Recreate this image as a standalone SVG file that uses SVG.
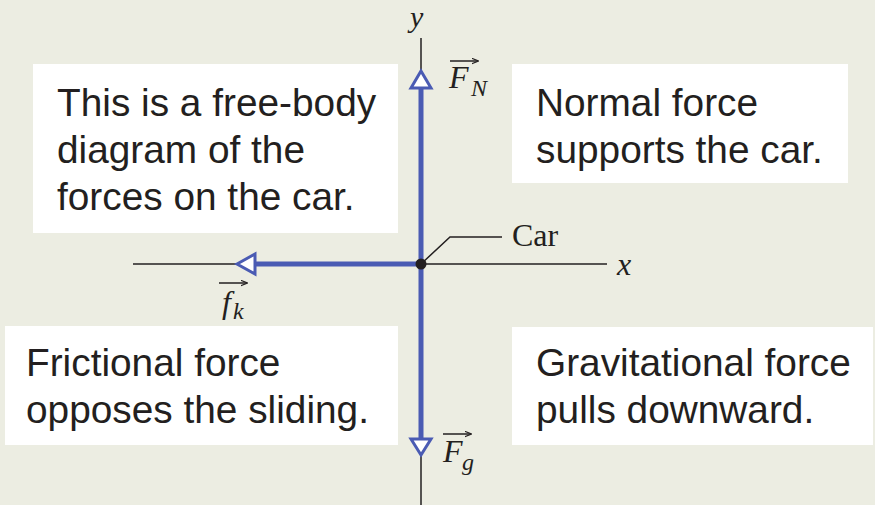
<svg xmlns="http://www.w3.org/2000/svg" width="875" height="505" viewBox="0 0 875 505">
<defs>
<marker id="vec" viewBox="0 0 10 10" refX="9" refY="5" markerWidth="7" markerHeight="7" markerUnits="userSpaceOnUse" orient="auto">
<path d="M0,1 L10,5 L0,9" fill="none" stroke="#231f20" stroke-width="1.5"/>
</marker>
</defs>
<style>
.box{fill:#ffffff}
.t{font-family:"Liberation Sans",Arial,sans-serif;font-size:38.8px;fill:#231f20}
.m{font-family:"Liberation Serif","Times New Roman",serif;fill:#231f20}
.i{font-style:italic}
.ax{stroke:#231f20;stroke-width:1.5;fill:none}
.f{stroke:#4a5bb3;stroke-width:5;fill:none}
.head{fill:#ffffff;stroke:#4a5bb3;stroke-width:3}
.va{stroke:#231f20;stroke-width:1.5;fill:none}
</style>
<rect width="875" height="505" fill="#ecede2"/>
<g id="box-fbd">
<rect class="box" x="33" y="64" width="365" height="169"/>
<text class="t" x="57" y="116">This is a free-body</text>
<text class="t" x="57" y="163">diagram of the</text>
<text class="t" x="57" y="210">forces on the car.</text>
</g>
<g id="box-normal">
<rect class="box" x="512" y="64" width="336" height="119"/>
<text class="t" x="536" y="116">Normal force</text>
<text class="t" x="536" y="163">supports the car.</text>
</g>
<g id="box-friction">
<rect class="box" x="5" y="326" width="393" height="119"/>
<text class="t" x="26" y="376">Frictional force</text>
<text class="t" x="26" y="423">opposes the sliding.</text>
</g>
<g id="box-gravity">
<rect class="box" x="512" y="327" width="361" height="118"/>
<text class="t" x="536" y="376">Gravitational force</text>
<text class="t" x="536" y="423">pulls downward.</text>
</g>
<g id="connectors">
<line class="ax" x1="421" y1="38" x2="421" y2="70"/>
<line class="ax" x1="421" y1="455" x2="421" y2="505"/>
<line class="ax" x1="133" y1="264" x2="237" y2="264"/>
<line class="ax" x1="421" y1="264" x2="607" y2="264"/>
<line class="f" x1="421" y1="86" x2="421" y2="441"/>
<line class="f" x1="254" y1="264" x2="421" y2="264"/>
<polygon class="head" points="421,71 431,88 411,88"/>
<polygon class="head" points="421,455 431,439 411,439"/>
<polygon class="head" points="237,264 255,254 255,274"/>
<polyline class="ax" points="421,264 450,237 502,237" stroke-width="1.3"/>
</g>
<g id="car">
<circle cx="421" cy="264" r="5.5" fill="#231f20"/>
<text class="m" x="512" y="246" font-size="32">Car</text>
</g>
<g id="labels">
<text class="m i" x="410" y="27" font-size="30">y</text>
<text class="m i" x="617" y="275" font-size="32">x</text>
<line class="va" x1="450" y1="61" x2="478" y2="61" marker-end="url(#vec)"/>
<text class="m i" x="449" y="88" font-size="32">F</text>
<text class="m i" x="471" y="96" font-size="24">N</text>
<line class="va" x1="219" y1="283" x2="247" y2="283" marker-end="url(#vec)"/>
<text class="m i" x="222" y="313" font-size="32">f</text>
<text class="m i" x="233" y="319" font-size="24">k</text>
<line class="va" x1="443" y1="434" x2="471" y2="434" marker-end="url(#vec)"/>
<text class="m i" x="443" y="462" font-size="32">F</text>
<text class="m i" x="462" y="470" font-size="24">g</text>
</g>
</svg>
